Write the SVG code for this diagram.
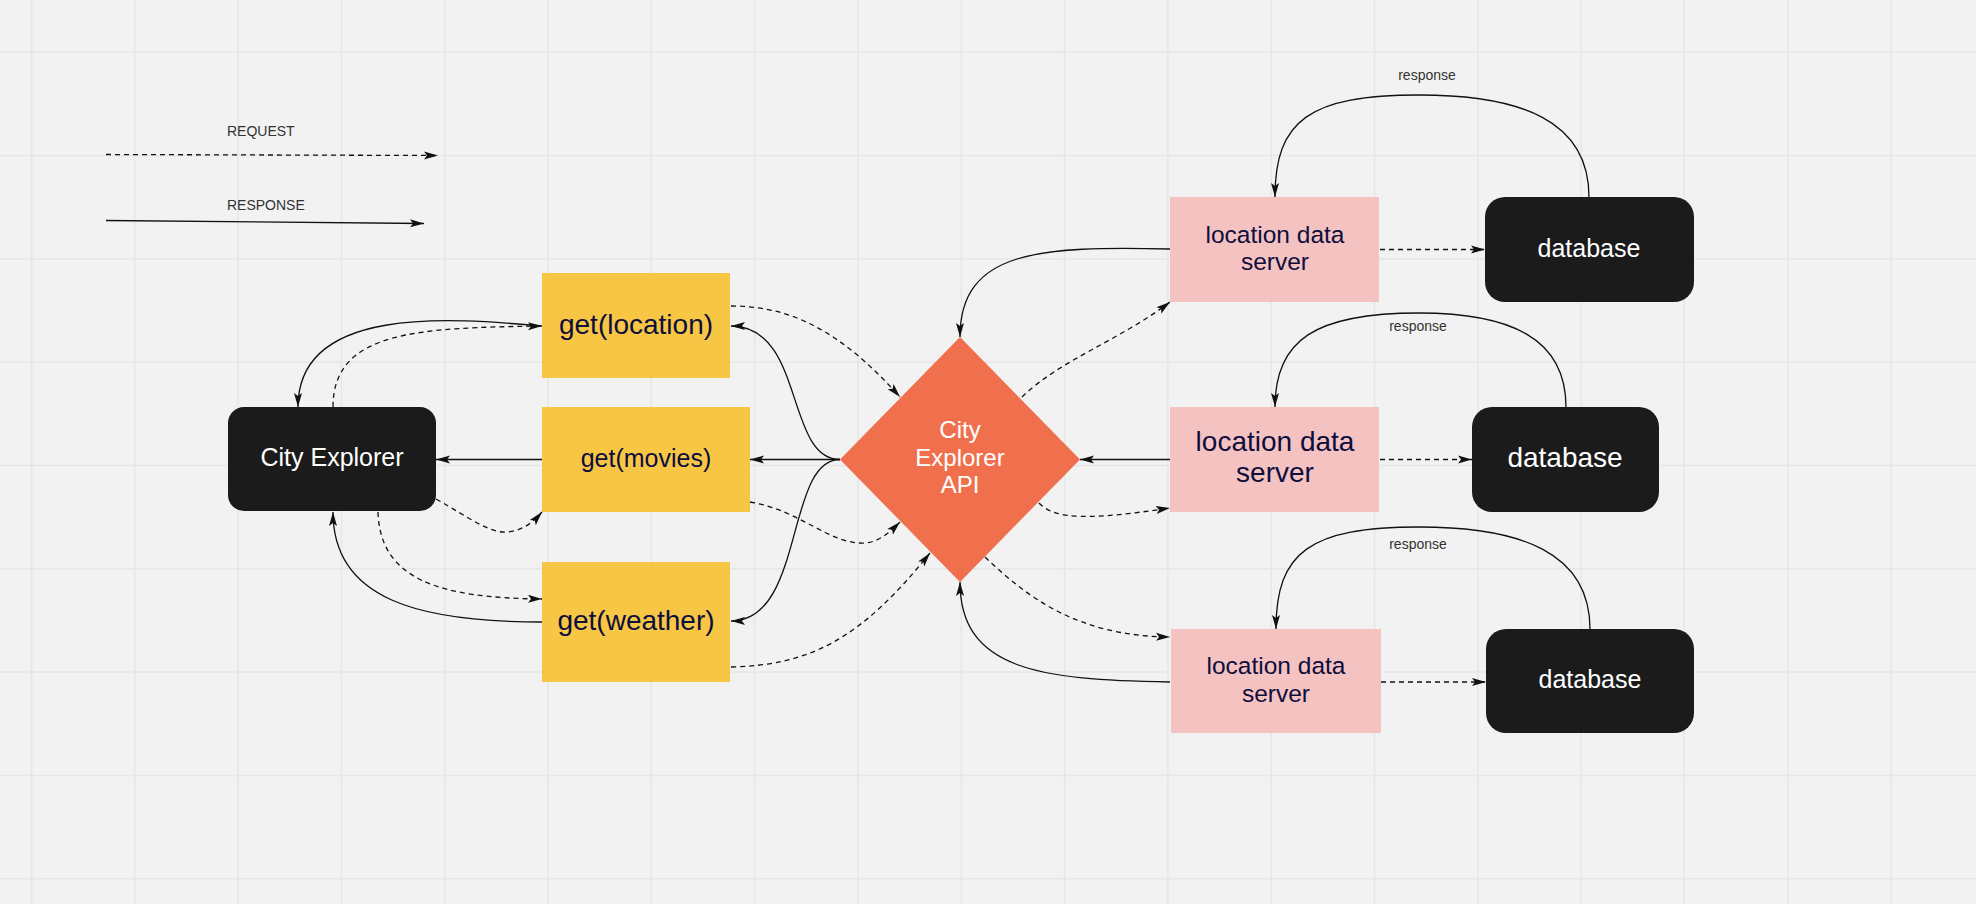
<svg xmlns="http://www.w3.org/2000/svg" width="1976" height="904" viewBox="0 0 1976 904">
<style>
.bg{fill:#f2f2f2}
.grid line{stroke:#e6e6e6;stroke-width:1.5}
.dark{fill:#1b1b1b}
.yellow{fill:#f7c644}
.pink{fill:#f5c2c2}
.api{fill:#f0704e}
text{font-family:"Liberation Sans",Arial,sans-serif;text-anchor:middle}
.wt{fill:#ffffff}
.nt{fill:#0e0e3c}
.lbl{fill:#333333;font-size:14px}
.legend{text-anchor:start}
.req{fill:none;stroke:#111;stroke-width:1.3;stroke-dasharray:5 4;marker-end:url(#arrow)}
.res{fill:none;stroke:#111;stroke-width:1.3;marker-end:url(#arrow)}
</style>
<defs>
<marker id="arrow" markerUnits="userSpaceOnUse" markerWidth="14" markerHeight="10" refX="14" refY="5" orient="auto">
<path d="M0,1 L14,5 L0,9 L3,5 z" fill="#111" stroke="none"/>
</marker>
</defs>
<rect class="bg" x="0" y="0" width="1976" height="904"/>
<g class="grid">
<line x1="31.6" y1="0" x2="31.6" y2="904"/>
<line x1="134.9" y1="0" x2="134.9" y2="904"/>
<line x1="238.2" y1="0" x2="238.2" y2="904"/>
<line x1="341.5" y1="0" x2="341.5" y2="904"/>
<line x1="444.8" y1="0" x2="444.8" y2="904"/>
<line x1="548.1" y1="0" x2="548.1" y2="904"/>
<line x1="651.4" y1="0" x2="651.4" y2="904"/>
<line x1="754.7" y1="0" x2="754.7" y2="904"/>
<line x1="858" y1="0" x2="858" y2="904"/>
<line x1="961.3" y1="0" x2="961.3" y2="904"/>
<line x1="1064.6" y1="0" x2="1064.6" y2="904"/>
<line x1="1167.9" y1="0" x2="1167.9" y2="904"/>
<line x1="1271.2" y1="0" x2="1271.2" y2="904"/>
<line x1="1374.5" y1="0" x2="1374.5" y2="904"/>
<line x1="1477.8" y1="0" x2="1477.8" y2="904"/>
<line x1="1581.1" y1="0" x2="1581.1" y2="904"/>
<line x1="1684.4" y1="0" x2="1684.4" y2="904"/>
<line x1="1787.7" y1="0" x2="1787.7" y2="904"/>
<line x1="1891" y1="0" x2="1891" y2="904"/>
<line x1="0" y1="52.3" x2="1976" y2="52.3"/>
<line x1="0" y1="155.6" x2="1976" y2="155.6"/>
<line x1="0" y1="258.9" x2="1976" y2="258.9"/>
<line x1="0" y1="362.2" x2="1976" y2="362.2"/>
<line x1="0" y1="465.5" x2="1976" y2="465.5"/>
<line x1="0" y1="568.8" x2="1976" y2="568.8"/>
<line x1="0" y1="672.1" x2="1976" y2="672.1"/>
<line x1="0" y1="775.4" x2="1976" y2="775.4"/>
<line x1="0" y1="878.7" x2="1976" y2="878.7"/>
</g>
<g id="legend">
<text class="lbl legend" x="227" y="136">REQUEST</text>
<path class="req" d="M106,154.5 L438,155.5"/>
<text class="lbl legend" x="227" y="210">RESPONSE</text>
<path class="res" d="M106,220.5 L424,223.5"/>
</g>
<g id="connectors">
<path class="req" d="M333,407 C333,330 420,328 542,326"/>
<path class="res" d="M542,326 C450,318 298,305 298,407"/>
<path class="res" d="M542,459.5 L436,459.5"/>
<path class="req" d="M436,499 C470,518 490,534 508,532 C525,530 535,520 542,512"/>
<path class="req" d="M378,512 C380,580 440,598 542,599"/>
<path class="res" d="M542,622 C420,622 333,600 333,512"/>
<path class="res" d="M840,459.5 C785,459.5 805,326 731,326"/>
<path class="res" d="M840,459.5 L750,459.5"/>
<path class="res" d="M840,459.5 C785,459.5 805,621 731,621"/>
<path class="req" d="M731,306 C790,306 840,330 900,397"/>
<path class="req" d="M750,502 C800,510 830,545 865,543 C880,542 892,530 900,522"/>
<path class="req" d="M731,667 C810,665 860,640 930,553"/>
<path class="req" d="M1022,397 C1060,360 1120,340 1170,302"/>
<path class="res" d="M1170,249 C1040,246 960,250 960,337"/>
<path class="res" d="M1170,459.5 L1080,459.5"/>
<path class="req" d="M1039,503 C1055,520 1090,520 1170,508"/>
<path class="req" d="M985,557 C1030,600 1080,636 1170,637"/>
<path class="res" d="M1170,682 C1040,680 960,670 960,582"/>
<path class="req" d="M1380,249.5 L1485,249.5"/>
<path class="req" d="M1380,459.5 L1472,459.5"/>
<path class="req" d="M1381,682 L1486,682"/>
<path class="res" d="M1589,197 C1589,120 1520,95 1419,95 C1310,95 1275,120 1275,197"/>
<path class="res" d="M1566,407 C1566,338 1510,313 1419,313 C1315,313 1275,340 1275,407"/>
<path class="res" d="M1590,629 C1590,552 1520,527 1419,527 C1310,527 1276,552 1276,629"/>
<text class="lbl" x="1427" y="80">response</text>
<text class="lbl" x="1418" y="331">response</text>
<text class="lbl" x="1418" y="549">response</text>
</g>
<g id="city-explorer">
<rect class="dark" x="228" y="407" width="208" height="104" rx="16"/>
<text class="wt" x="332" y="466" font-size="25">City Explorer</text>
</g>
<g id="get-location">
<rect class="yellow" x="542" y="273" width="188" height="105"/>
<text class="nt" x="636" y="334" font-size="28">get(location)</text>
</g>
<g id="get-movies">
<rect class="yellow" x="542" y="407" width="208" height="105"/>
<text class="nt" x="646" y="467" font-size="25">get(movies)</text>
</g>
<g id="get-weather">
<rect class="yellow" x="542" y="562" width="188" height="120"/>
<text class="nt" x="636" y="630" font-size="28">get(weather)</text>
</g>
<g id="api">
<polygon class="api" points="960,337 1080,459.5 960,582 840,459.5"/>
<text class="wt" font-size="24"><tspan x="960" y="438">City</tspan><tspan x="960" y="466">Explorer</tspan><tspan x="960" y="493">API</tspan></text>
</g>
<g id="server-1">
<rect class="pink" x="1170" y="197" width="209" height="105"/>
<text class="nt" font-size="24.5"><tspan x="1275" y="243">location data</tspan><tspan x="1275" y="270">server</tspan></text>
</g>
<g id="server-2">
<rect class="pink" x="1170" y="407" width="209" height="105"/>
<text class="nt" font-size="28"><tspan x="1275" y="451">location data</tspan><tspan x="1275" y="482">server</tspan></text>
</g>
<g id="server-3">
<rect class="pink" x="1171" y="629" width="210" height="104"/>
<text class="nt" font-size="24.5"><tspan x="1276" y="674">location data</tspan><tspan x="1276" y="702">server</tspan></text>
</g>
<g id="database-1">
<rect class="dark" x="1485" y="197" width="209" height="105" rx="20"/>
<text class="wt" x="1589" y="257" font-size="25">database</text>
</g>
<g id="database-2">
<rect class="dark" x="1472" y="407" width="187" height="105" rx="20"/>
<text class="wt" x="1565" y="467" font-size="28">database</text>
</g>
<g id="database-3">
<rect class="dark" x="1486" y="629" width="208" height="104" rx="20"/>
<text class="wt" x="1590" y="688" font-size="25">database</text>
</g>
</svg>
